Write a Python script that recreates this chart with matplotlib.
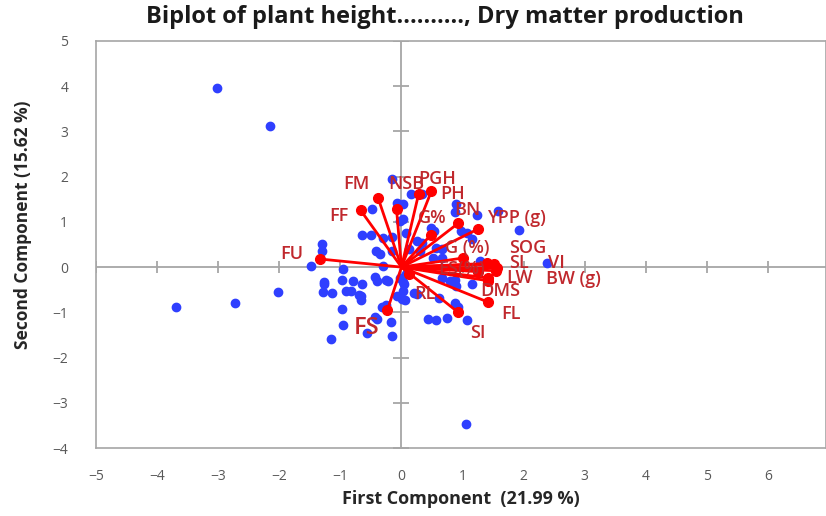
import matplotlib
matplotlib.use("Agg")
import matplotlib.pyplot as plt
import numpy as np

# ---- data: genotype scores (PC1, PC2) ----
score_x = [-3.02, -2.15, -3.69, -2.72, -2.02, 1.05, 1.93, 2.39,
           -1.48, -1.30, -1.30, -1.26, -1.28, -1.13, -0.97, -0.80, -0.90, -0.82,
           -0.95, -0.64, -0.67, -0.66, -0.98, -0.96, -1.15, -0.44, -0.40, -0.25,
           -0.22, -0.44, -0.40, -0.57, -0.32, -0.25, -0.17, -0.15, -0.08, 0.01,
           0.06, -0.03, 0.02, -0.64, -0.50, -0.16, -0.30, -0.42, -0.35, -0.16,
           -0.31, -0.49, -0.07, 0.03, -0.15, -0.03, 0.16, 0.34, 0.02, 0.90,
           0.88, 1.23, 1.58, 0.49, 0.54, 0.25, 0.33, 0.08, 0.98, 1.07,
           1.15, 0.57, 0.67, 0.51, 0.66, 0.13, 0.30, 1.28, 0.05, 0.21,
           0.62, 0.67, 0.79, 0.90, 0.87, 1.16, 0.87, 0.92, 0.43, 0.57,
           0.74, 1.08, 0.08, 0.25, -1.26, -0.69, 0.02]
score_y = [3.97, 3.13, -0.88, -0.79, -0.55, -3.47, 0.82, 0.09,
           0.02, 0.51, 0.36, -0.34, -0.55, -0.57, -0.28, -0.30, -0.53, -0.53,
           -0.05, -0.38, -0.64, -0.72, -0.93, -1.28, -1.60, -0.22, -0.30, -0.29,
           -0.31, -1.10, -1.15, -1.46, -0.88, -0.83, -1.22, -1.52, -0.64, -0.70,
           -0.73, -0.24, -0.33, 0.71, 0.71, 0.66, 0.64, 0.35, 0.30, 0.35,
           0.02, 1.28, 1.41, 1.40, 1.95, 1.02, 1.61, 1.61, 1.06, 1.39,
           1.22, 1.15, 1.24, 0.86, 0.79, 0.57, 0.53, 0.75, 0.79, 0.75,
           0.62, 0.42, 0.40, 0.20, 0.20, 0.40, 0.35, 0.13, -0.38, -0.57,
           -0.68, -0.24, -0.31, -0.42, -0.28, -0.38, -0.79, -0.88, -1.15, -1.17,
           -1.13, -1.17, -0.15, -0.60, -0.38, -0.62, -0.53]

# ---- data: trait loadings (vector endpoints) ----
traits = ["FU", "FF", "FM", "NSB", "PGH", "PH", "G%", "BN", "YPP (g)", "G (%)",
          "SOG", "SL", "VI", "BW (g)", "ES(%)", "LW", "DMS", "FL", "SI", "RL", "FS"]
load_x = [-1.34, -0.67, -0.38, -0.08, 0.28, 0.49, 0.48, 0.93, 1.25, 1.00,
          1.40, 1.52, 1.56, 1.55, 1.25, 1.42, 1.41, 1.41, 0.92, 0.13, -0.23]
load_y = [0.18, 1.26, 1.52, 1.28, 1.61, 1.68, 0.71, 0.97, 0.84, 0.20,
          0.08, 0.07, -0.02, -0.08, -0.10, -0.24, -0.30, -0.77, -0.99, -0.15, -0.95]
# label anchor positions (data units)
lab_x = [-1.79, -1.03, -0.74, 0.08, 0.59, 0.84, 0.51, 1.08, 1.89, 1.08,
         2.07, 1.93, 2.54, 2.82, 0.98, 1.93, 1.61, 1.80, 1.25, 0.38, -0.57]
lab_y = [0.29, 1.13, 1.83, 1.83, 1.94, 1.61, 1.08, 1.26, 1.08, 0.42,
         0.42, 0.09, 0.09, -0.26, -0.04, -0.24, -0.53, -1.04, -1.46, -0.60, -1.35]
lab_size = [13] * 20 + [17]

x_ticks = [-5, -4, -3, -2, -1, 0, 1, 2, 3, 4, 5, 6]
y_ticks = [-4, -3, -2, -1, 0, 1, 2, 3, 4, 5]

title = "Biplot of plant height.........., Dry matter production"
xlabel = "First Component  (21.99 %)"
ylabel = "Second Component (15.62 %)"

plt.rcParams['font.family'] = ['Open Sans', 'DejaVu Sans']

W, H = 826, 516
fig = plt.figure(figsize=(W / 100, H / 100), dpi=100)
left, right, top, bottom = 96, 826, 41, 448
ax = fig.add_axes([left / W, (H - bottom) / H, (right - left) / W, (bottom - top) / H])
ax.set_xlim(-5, 6.95)
ax.set_ylim(-4, 5)

grey = '#A6A6A6'
for s in ax.spines.values():
    s.set_color(grey)
    s.set_linewidth(1.2)

ax.set_xticks(x_ticks)
ax.set_yticks(y_ticks)
ax.tick_params(length=0, labelsize=10, labelcolor='#595959')
ax.tick_params(axis='x', pad=15)
ax.tick_params(axis='y', pad=20)

# zero axes with cross tick marks
ax.axhline(0, color=grey, lw=1.3, zorder=1)
ax.axvline(0, color=grey, lw=1.3, zorder=1)
ax.plot([t for t in x_ticks if t != 0], [0] * (len(x_ticks) - 1), ls='none',
        marker='|', ms=9, mew=1.3, color=grey, zorder=1)
ax.plot([0] * (len(y_ticks) - 1), [t for t in y_ticks if t != 0], ls='none',
        marker='_', ms=11, mew=1.3, color=grey, zorder=1)

# genotype scores
ax.plot(score_x, score_y, ls='none', marker='o', ms=6, mfc='#2F3FFF',
        mec='#2F3FFF', zorder=2)

# trait vectors
for lx, ly in zip(load_x, load_y):
    ax.plot([0, lx], [0, ly], color='#FF0000', lw=2, zorder=3, solid_capstyle='round')
ax.plot(load_x, load_y, ls='none', marker='o', ms=7, color='#FF0000', zorder=4)

for t, tx, ty, fs in zip(traits, lab_x, lab_y, lab_size):
    ax.text(tx, ty, t, color='#C0282D', fontsize=fs, ha='center', va='center',
            fontweight='semibold', zorder=5)

fig.text(445 / W, 1 - 17 / H, title, ha='center', va='center', fontsize=17,
         fontweight='bold', color='#1a1a1a')
fig.text(461 / W, 1 - 499 / H, xlabel, ha='center', va='center', fontsize=13,
         fontweight='bold', color='#262626')
fig.text(23 / W, 1 - 225 / H, ylabel, ha='center', va='center', fontsize=12.5,
         fontweight='bold', color='#262626', rotation=90)

fig.savefig('out.png', dpi=100)
